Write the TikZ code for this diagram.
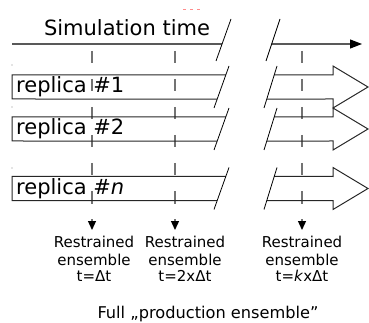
\documentclass[tikz,border=0pt]{standalone}
\usepackage{fontspec}
\setmainfont{DejaVu Sans}
\usetikzlibrary{arrows.meta,calc}

\begin{document}
\begin{tikzpicture}[x=1pt,y=-1pt,
  outline/.style={draw=black!85,line width=1pt,line join=miter},
  axisline/.style={draw=black,line width=1.1pt},
  cut/.style={draw=black,line width=0.8pt},
  guide/.style={draw=black!55,line width=1.3pt,dash pattern=on 12.5pt off 15.5pt},
  lbl/.style={align=center,font=\fontsize{15}{17}\selectfont,inner sep=0pt},
  rtext/.style={anchor=base west,inner sep=0pt,font=\fontsize{21}{24}\selectfont},
]
\useasboundingbox (0,0) rectangle (369,323);

% faint marks
\draw[red!45,line width=0.8pt,dash pattern=on 3pt off 4pt] (183,9) -- (201,9);
\foreach \y in {65,107,168} \fill[black!45] (12,\y) circle (0.6pt);

% sampling guides with their arrows
\foreach \x/\n in {92/a,175/b,302/c}{
  \coordinate (g\n top) at (\x,51);
  \coordinate (g\n end) at (\x,230);
  \draw[guide,-{Triangle[length=9pt,width=8pt,color=black]}] (g\n top) -- (g\n end);
}

% time axis with a break
\node[anchor=base,inner sep=0pt,font=\fontsize{21}{24}\selectfont] (simtime) at (127,36) {Simulation time};
\coordinate (ax0) at (12,44);
\coordinate (axA1) at (216,61); \coordinate (axA2) at (231,19);
\coordinate (axB1) at (266,61); \coordinate (axB2) at (280,19);
\coordinate (axL) at ($(axA1)!0.405!(axA2)$);
\coordinate (axR) at ($(axB1)!0.405!(axB2)$);
\coordinate (ax1) at (362,44);
\draw[axisline] (ax0) -- (axL);
\draw[axisline,-{Triangle[length=12pt,width=9pt]}] (axR) -- (ax1);
\draw[cut] (axA1) -- (axA2);
\draw[cut] (axB1) -- (axB2);

% replica arrows, each broken like the axis
\foreach \c/\nm/\txt in {87/r1/{replica \#1},129/r2/{replica \#2},188.5/rn/{replica \#\textit{n}}}{
  \coordinate (L1) at (214,\c+21); \coordinate (L2) at (229,\c-21);
  \coordinate (R1) at (264,\c+21); \coordinate (R2) at (277,\c-21);
  \draw[outline] ($(L1)!0.786!(L2)$) -- (12,\c-12) -- (12,\c+12) -- ($(L1)!0.214!(L2)$);
  \draw[outline] ($(R1)!0.786!(R2)$) -- (333,\c-12) -- (333,\c-21) -- (368,\c)
     -- (333,\c+21) -- (333,\c+12) -- ($(R1)!0.214!(R2)$);
  \draw[cut] (L1) -- (L2);
  \draw[cut] (R1) -- (R2);
  \node[rtext] (\nm) at (16,\c+6) {\txt};
}

% ensembles
\node[lbl] (e1) at (94,259.3) {Restrained\\ensemble\\t=Δt};
\node[lbl] (e2) at (185,259.3) {Restrained\\ensemble\\t=2xΔt};
\node[lbl] (ek) at (302,259.3) {Restrained\\ensemble\\t=\textit{k}xΔt};
\node[anchor=base,inner sep=0pt,font=\fontsize{16.2}{18}\selectfont] (full) at (208,318) {Full „production ensemble”};
\end{tikzpicture}
\end{document}
